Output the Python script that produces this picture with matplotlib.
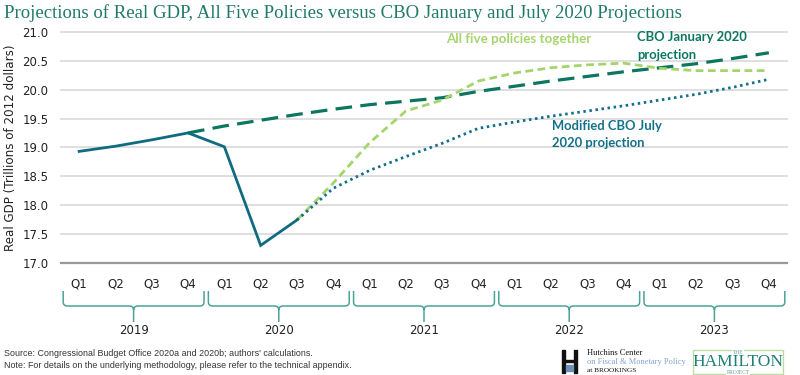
import matplotlib
matplotlib.use("Agg")
import matplotlib.pyplot as plt
import matplotlib.transforms as mtransforms
from matplotlib.path import Path
from matplotlib.patches import PathPatch, Rectangle

# data
years = ["2019", "2020", "2021", "2022", "2023"]
quarters = ["Q1", "Q2", "Q3", "Q4"] * 5

actual = [18.93, 19.02, 19.13, 19.25, 19.01, 17.30, 17.74]
cbo_jan = [19.25, 19.37, 19.47, 19.57, 19.66, 19.74, 19.80, 19.86, 19.97,
           20.06, 20.15, 20.23, 20.31, 20.38, 20.45, 20.54, 20.64]
five_policies = [17.74, 18.38, 19.08, 19.63, 19.82, 20.15, 20.29, 20.38,
                 20.43, 20.46, 20.37, 20.33, 20.33, 20.33]
cbo_july = [17.74, 18.29, 18.60, 18.84, 19.07, 19.33, 19.44, 19.54, 19.63,
            19.72, 19.82, 19.92, 20.04, 20.18]

x_actual = list(range(0, 7))
x_jan = list(range(3, 20))
x_proj = list(range(6, 20))

W, H = 800, 375
fig = plt.figure(figsize=(8, 3.75), dpi=100)
ax = fig.add_axes([61 / W, 1 - 262.7 / H, (787 - 61) / W, (262.7 - 32) / H])

ax.set_xlim(-0.5, 19.5)
ax.set_ylim(17, 21)

for v in [17.5, 18.0, 18.5, 19.0, 19.5, 20.0, 20.5, 21.0]:
    ax.axhline(v, color="#dcdcdc", lw=1.3, zorder=0, clip_on=False)
ax.axhline(17.0, color="#9a9a9a", lw=1.6, zorder=1, clip_on=False)

ax.plot(x_jan, cbo_jan, color="#0c7660", lw=2.3, dashes=(5.2, 2.6),
        solid_capstyle="butt", zorder=3)
ax.plot(x_proj, five_policies, color="#a6d46c", lw=2.0, dashes=(2.8, 1.6),
        zorder=4)
ax.plot(x_proj, cbo_july, color="#13708a", lw=2.0, dashes=(0.9, 1.3),
        zorder=4)
ax.plot(x_actual, actual, color="#0f6b80", lw=2.0, zorder=5,
        solid_joinstyle="miter")

for s in ax.spines.values():
    s.set_visible(False)

ax.set_yticks([17.0, 17.5, 18.0, 18.5, 19.0, 19.5, 20.0, 20.5, 21.0])
ax.set_yticklabels(["%.1f" % v for v in ax.get_yticks()])
ax.set_xticks(range(20))
ax.set_xticklabels(quarters)
ax.tick_params(length=0, labelsize=8.5, colors="#222222")
ax.tick_params(axis="x", pad=11)
ax.tick_params(axis="y", pad=9)
ax.set_ylabel("Real GDP (Trillions of 2012 dollars)", fontsize=8.6,
              color="#222222", labelpad=4)

# annotations
ax.text(10.1, 20.88, "All five policies together", color="#a6d46c",
        fontsize=9.6, fontweight="bold", family="Lato", va="center")
ax.text(15.37, 20.76, "CBO January 2020\nprojection", color="#0c7660",
        fontsize=9.4, fontweight="bold", family="Lato", va="center",
        linespacing=1.55)
ax.text(13.03, 19.23, "Modified CBO July\n2020 projection", color="#13708a",
        fontsize=9.4, fontweight="bold", family="Lato", va="center",
        linespacing=1.5)

# year braces under the quarter labels
tr = mtransforms.blended_transform_factory(ax.transData, fig.transFigure)


def fy(py):
    return 1 - py / H


for k, yr in enumerate(years):
    x0 = 4 * k - 0.5 + 0.06
    x1 = 4 * k + 3.5 - 0.06
    xc = 4 * k + 1.5
    r = 0.12
    top, mid, tip = fy(291), fy(306), fy(322)
    verts = [(x0, top), (x0, fy(302)), (x0, mid), (x0 + r, mid),
             (xc - r, mid), (xc, mid), (xc, fy(310)), (xc, tip),
             (xc, fy(310)), (xc, mid), (xc + r, mid),
             (x1 - r, mid), (x1, mid), (x1, fy(302)), (x1, top)]
    codes = [Path.MOVETO, Path.LINETO, Path.CURVE3, Path.CURVE3,
             Path.LINETO, Path.CURVE3, Path.CURVE3, Path.LINETO,
             Path.MOVETO, Path.CURVE3, Path.CURVE3,
             Path.LINETO, Path.CURVE3, Path.CURVE3, Path.LINETO]
    patch = PathPatch(Path(verts, codes), fill=False, edgecolor="#4aa396",
                      lw=1.1, transform=tr, clip_on=False)
    fig.add_artist(patch)
    ax.text(xc, fy(330), yr, transform=tr, ha="center", va="center",
            fontsize=8.5, color="#222222")

fig.text(4 / W, 1 - 13 / H,
         "Projections of Real GDP, All Five Policies versus CBO January and July 2020 Projections",
         fontsize=13.5, family="Liberation Serif", color="#1f7a6a",
         va="center", ha="left")

fig.text(4 / W, 1 - 353 / H,
         "Source: Congressional Budget Office 2020a and 2020b; authors' calculations.",
         fontsize=6.4, family="Liberation Sans", color="#333333", va="center")
fig.text(4 / W, 1 - 366 / H,
         "Note: For details on the underlying methodology, please refer to the technical appendix.",
         fontsize=6.4, family="Liberation Sans", color="#333333", va="center")

# Hutchins logo
fig.add_artist(Rectangle((562 / W, 1 - 373 / H), 3 / W, 23 / H,
                         transform=fig.transFigure, color="#111111"))
fig.add_artist(Rectangle((574 / W, 1 - 373 / H), 3 / W, 23 / H,
                         transform=fig.transFigure, color="#111111"))
fig.add_artist(Rectangle((565 / W, 1 - 362 / H), 9 / W, 2 / H,
                         transform=fig.transFigure, color="#111111"))
fig.add_artist(Rectangle((566 / W, 1 - 371 / H), 7 / W, 6 / H,
                         transform=fig.transFigure, color="#6f8fb8"))
fig.text(587 / W, 1 - 353 / H, "Hutchins Center", fontsize=6,
         family="Liberation Serif", color="#111111", va="center")
fig.text(587 / W, 1 - 362 / H, "on Fiscal & Monetary Policy", fontsize=6,
         family="Liberation Serif", color="#7fa3cf", va="center")
fig.text(587 / W, 1 - 371 / H, "at BROOKINGS", fontsize=5.2,
         family="Liberation Serif", color="#111111", va="center")

# Hamilton Project logo
fig.add_artist(Rectangle((693 / W, 1 - 374 / H), 90 / W, 24 / H,
                         transform=fig.transFigure, fill=False,
                         edgecolor="#bcdca4", lw=1.0))
fig.text(738 / W, 1 - 352 / H, "THE", fontsize=4, family="Liberation Serif",
         color="#5aa08a", ha="center", va="center",
         bbox=dict(facecolor="white", edgecolor="none", pad=0.5))
fig.text(738 / W, 1 - 362 / H, "HAMILTON", fontsize=12.5,
         family="Liberation Serif", color="#1f7f78", ha="center", va="center")
fig.text(738 / W, 1 - 372 / H, "PROJECT", fontsize=4,
         family="Liberation Serif", color="#5aa08a", ha="center", va="center",
         bbox=dict(facecolor="white", edgecolor="none", pad=0.5))

fig.savefig("out.png", dpi=100, facecolor="white")
